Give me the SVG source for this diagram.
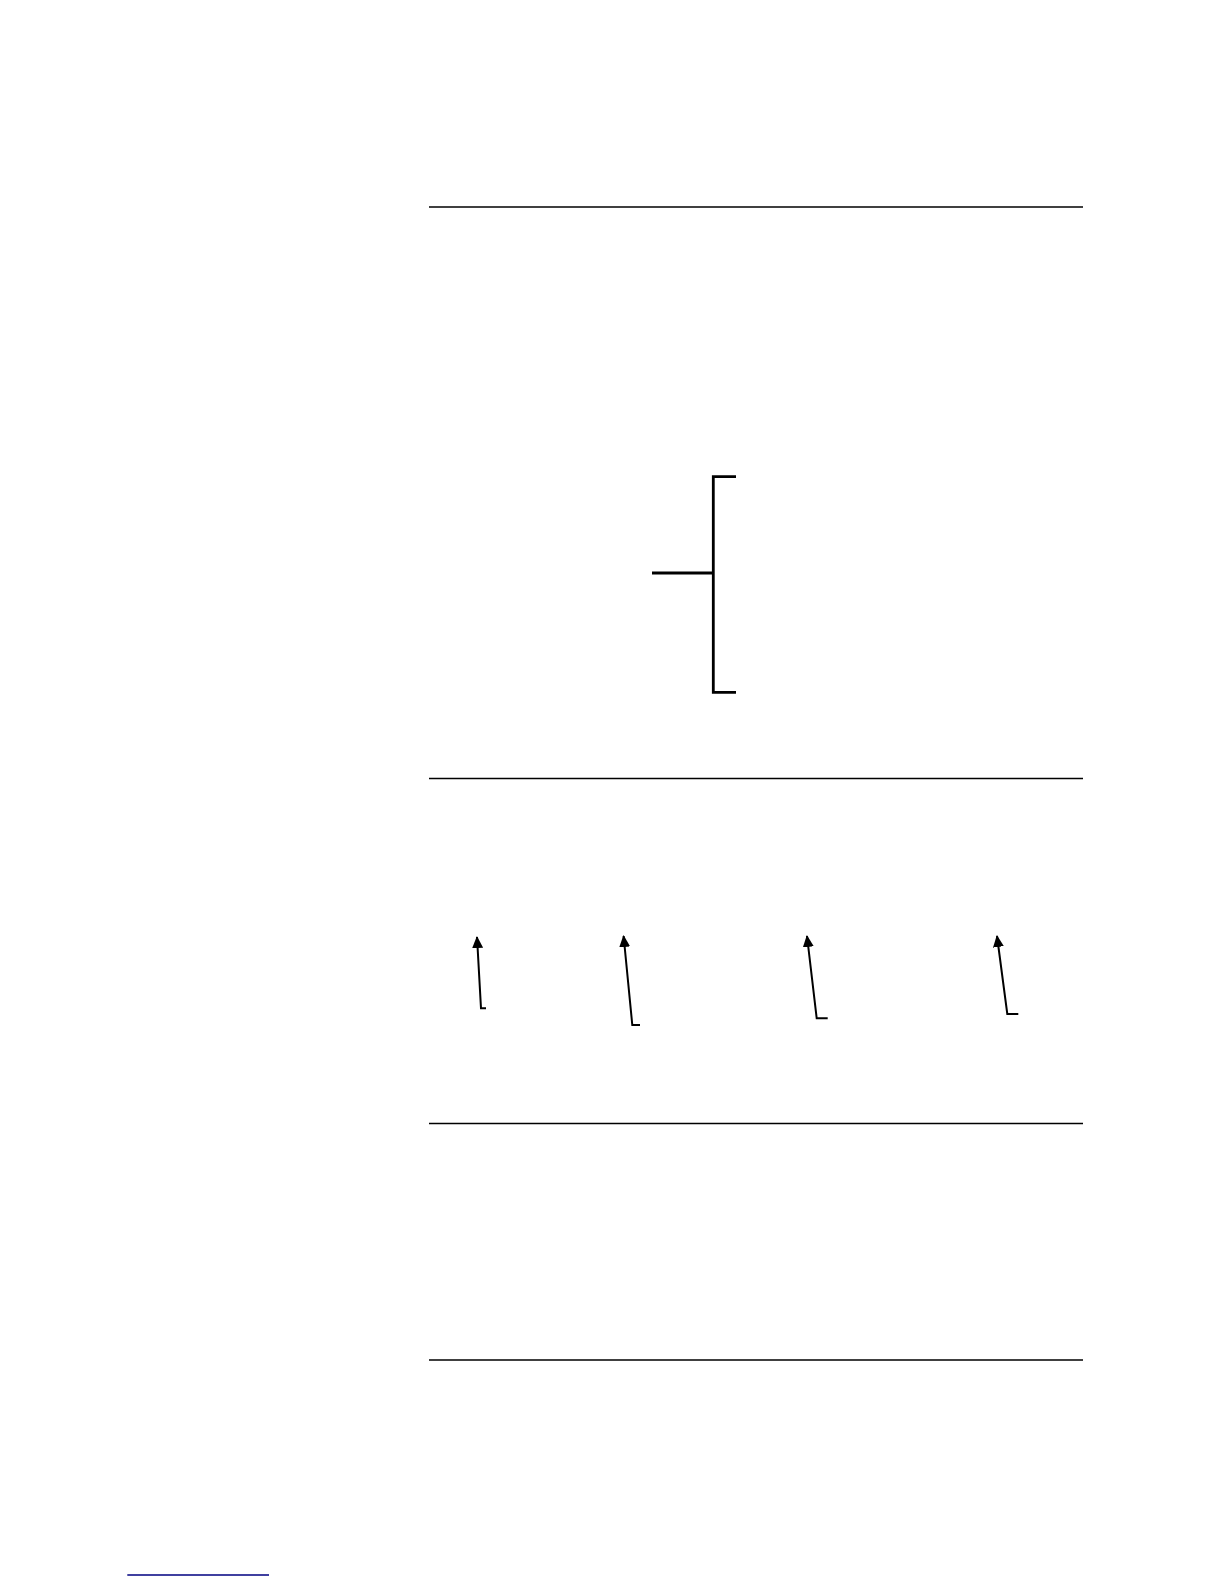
<svg xmlns="http://www.w3.org/2000/svg" width="1224" height="1584" viewBox="0 0 1224 1584">
<defs>
<style>
.rule{stroke:#000;stroke-width:1.5;fill:none}
.br{stroke:#000;stroke-width:2.8;fill:none}
.ar{stroke:#000;stroke-width:2;fill:none}
</style>
<marker id="ah" viewBox="0 0 12 11" refX="11" refY="5.5" markerWidth="12" markerHeight="11" orient="auto" markerUnits="userSpaceOnUse">
<path d="M0,0 L12,5.5 L0,11 z" fill="#000"/>
</marker>
</defs>
<rect width="1224" height="1584" fill="#fff"/>
<g id="rules">
<line class="rule" x1="429" y1="207" x2="1083" y2="207"/>
<line class="rule" x1="429" y1="778.5" x2="1083" y2="778.5"/>
<line class="rule" x1="429" y1="1123.5" x2="1083" y2="1123.5"/>
<line class="rule" x1="429" y1="1360" x2="1083" y2="1360"/>
</g>
<g id="bracket">
<path class="br" d="M736,476.7 H713.3 V692.3 H736"/>
<line class="br" x1="652" y1="573" x2="713.3" y2="573"/>
</g>
<g id="connectors">
<path class="ar" d="M486,1008.3 H481 L477,937" marker-end="url(#ah)"/>
<path class="ar" d="M640,1025 H632.3 L623.6,936" marker-end="url(#ah)"/>
<path class="ar" d="M827.7,1018.3 H816.7 L807,936" marker-end="url(#ah)"/>
<path class="ar" d="M1018.3,1014 H1007.3 L997,936" marker-end="url(#ah)"/>
</g>
<line x1="127.3" y1="1575" x2="269" y2="1575" stroke="#000080" stroke-width="1.3"/>
</svg>
